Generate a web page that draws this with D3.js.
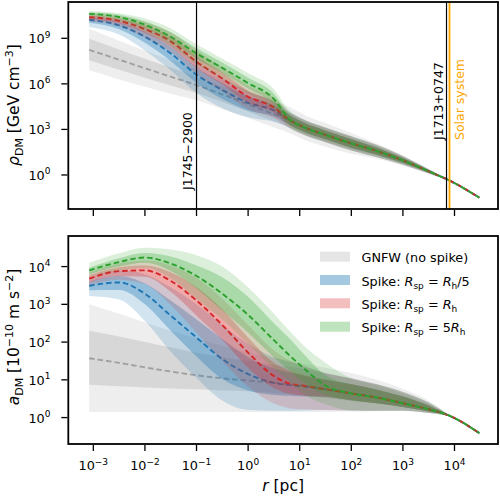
<!DOCTYPE html>
<html><head><meta charset="utf-8">
<script src="https://cdn.jsdelivr.net/npm/d3@7"></script>
<style>body{margin:0;background:#fff} text{font-family:"DejaVu Sans",sans-serif}</style>
</head><body><svg id="c" width="500" height="497"></svg>
<script>
// radius grid, log10(r / pc)
const logR = [-3.08, -2.5, -2, -1.5, -1, -0.5, 0, 0.5, 0.8, 1.1, 1.5, 2, 2.5, 3, 3.5, 3.9, 4.48];

// ---- top panel: log10(rho_DM / GeV cm^-3) ----
const rhoGnfwMed  = [8.24, 7.59, 7.03, 6.47, 5.92, 5.3, 4.65, 4.0, 3.62, 3.12, 2.64, 2.08, 1.57, 0.96, 0.24, -0.36, -1.49];
const rhoGnfwLo68 = [7.55, 6.93, 6.41, 5.89, 5.39, 4.8, 4.18, 3.54, 3.18, 2.69, 2.22, 1.70, 1.27, 0.76, 0.14, -0.37, -1.52];
const rhoGnfwHi68 = [8.97, 8.27, 7.66, 7.07, 6.47, 5.82, 5.15, 4.46, 4.06, 3.55, 3.06, 2.46, 1.87, 1.16, 0.34, -0.35, -1.46];
const rhoGnfwLo95 = [6.89, 6.29, 5.81, 5.35, 4.92, 4.35, 3.75, 3.12, 2.77, 2.30, 1.86, 1.40, 1.07, 0.63, 0.09, -0.38, -1.54];
const rhoGnfwHi95 = [9.63, 8.84, 8.18, 7.57, 6.97, 6.28, 5.57, 4.88, 4.47, 3.94, 3.42, 2.76, 2.07, 1.29, 0.39, -0.34, -1.44];

const rhoBlueMed  = [10.22, 9.85, 9.1, 8.0, 6.6, 5.6, 4.75, 4.25, 3.62, 3.12, 2.64, 2.08, 1.57, 0.96, 0.24, -0.36, -1.49];
const rhoBlueHi68 = [10.40, 10.08, 9.45, 8.45, 7.1, 6.05, 5.2, 4.6, 3.95, 3.42, 2.92, 2.36, 1.80, 1.12, 0.32, -0.35, -1.47];
const rhoBlueLo68 = [10.02, 9.6, 8.7, 7.5, 6.05, 5.0, 4.25, 3.85, 3.30, 2.82, 2.36, 1.80, 1.34, 0.80, 0.16, -0.37, -1.51];
const rhoBlueHi95 = [10.5, 10.25, 9.7, 8.75, 7.45, 6.4, 5.5, 4.85, 4.15, 3.62, 3.12, 2.55, 1.97, 1.25, 0.38, -0.34, -1.45];
const rhoBlueLo95 = [9.75, 9.25, 8.2, 6.9, 5.4, 4.4, 3.8, 3.5, 3.10, 2.62, 2.16, 1.62, 1.17, 0.68, 0.10, -0.38, -1.53];

const rhoRedMed  = [10.39, 10.15, 9.6, 8.8, 7.45, 6.35, 5.15, 4.45, 3.62, 3.12, 2.64, 2.08, 1.57, 0.96, 0.24, -0.36, -1.49];
const rhoRedHi68 = [10.52, 10.3, 9.85, 9.12, 7.85, 6.75, 5.55, 4.8, 3.95, 3.42, 2.92, 2.36, 1.80, 1.12, 0.32, -0.35, -1.47];
const rhoRedLo68 = [10.26, 9.98, 9.35, 8.45, 7.05, 5.95, 4.75, 4.1, 3.30, 2.82, 2.36, 1.80, 1.34, 0.80, 0.16, -0.37, -1.51];
const rhoRedHi95 = [10.62, 10.45, 10.05, 9.4, 8.2, 7.1, 5.9, 5.1, 4.15, 3.62, 3.12, 2.55, 1.97, 1.25, 0.38, -0.34, -1.45];
const rhoRedLo95 = [10.12, 9.8, 9.05, 8.1, 6.65, 5.5, 4.35, 3.75, 3.10, 2.62, 2.16, 1.62, 1.17, 0.68, 0.10, -0.38, -1.53];

const rhoGreenMed  = [10.61, 10.4, 9.9, 9.1, 8.0, 7.05, 6.05, 5.0, 3.68, 3.12, 2.64, 2.08, 1.57, 0.96, 0.24, -0.36, -1.49];
const rhoGreenHi68 = [10.72, 10.55, 10.12, 9.4, 8.35, 7.4, 6.4, 5.35, 4.0, 3.42, 2.92, 2.36, 1.80, 1.12, 0.32, -0.35, -1.47];
const rhoGreenLo68 = [10.5, 10.25, 9.68, 8.8, 7.65, 6.7, 5.7, 4.65, 3.33, 2.82, 2.36, 1.80, 1.34, 0.80, 0.16, -0.37, -1.51];
const rhoGreenHi95 = [10.8, 10.65, 10.3, 9.65, 8.6, 7.65, 6.7, 5.65, 4.25, 3.62, 3.12, 2.55, 1.97, 1.25, 0.38, -0.34, -1.45];
const rhoGreenLo95 = [10.4, 10.1, 9.45, 8.5, 7.3, 6.35, 5.35, 4.3, 3.12, 2.62, 2.16, 1.62, 1.17, 0.68, 0.10, -0.38, -1.53];

// ---- bottom panel: log10(a_DM / 1e-10 m s^-2) ----
const accGnfwMed  = [1.57, 1.45, 1.33, 1.22, 1.12, 1.04, 0.98, 0.92, 0.88, 0.84, 0.75, 0.64, 0.53, 0.38, 0.22, 0.05, -0.41];
const accGnfwHi68 = [2.3, 2.15, 2.0, 1.86, 1.72, 1.6, 1.5, 1.4, 1.34, 1.28, 1.16, 1.02, 0.85, 0.63, 0.35, 0.06, -0.39];
const accGnfwLo68 = [0.87, 0.83, 0.8, 0.77, 0.75, 0.72, 0.7, 0.65, 0.62, 0.58, 0.52, 0.44, 0.37, 0.28, 0.16, 0.04, -0.43];
const accGnfwHi95 = [3.0, 2.75, 2.52, 2.3, 2.1, 1.9, 1.72, 1.58, 1.5, 1.42, 1.32, 1.18, 1.0, 0.76, 0.45, 0.07, -0.37];
const accGnfwLo95 = [0.15, 0.15, 0.15, 0.15, 0.15, 0.15, 0.15, 0.15, 0.15, 0.15, 0.15, 0.16, 0.17, 0.18, 0.12, 0.03, -0.45];

const accBlueMed  = [3.49, 3.58, 3.28, 2.7, 2.12, 1.55, 1.15, 0.92, 0.86, 0.82, 0.75, 0.64, 0.53, 0.38, 0.22, 0.05, -0.41];
const accBlueHi68 = [3.6, 3.75, 3.55, 3.1, 2.6, 2.08, 1.6, 1.3, 1.2, 1.1, 1.0, 0.88, 0.74, 0.56, 0.32, 0.06, -0.39];
const accBlueLo68 = [3.37, 3.38, 3.0, 2.3, 1.62, 1.02, 0.72, 0.6, 0.58, 0.56, 0.55, 0.46, 0.38, 0.28, 0.16, 0.04, -0.43];
const accBlueHi95 = [3.7, 3.9, 3.8, 3.45, 3.0, 2.45, 1.95, 1.6, 1.48, 1.35, 1.18, 1.04, 0.88, 0.68, 0.4, 0.07, -0.37];
const accBlueLo95 = [3.22, 3.13, 2.56, 1.75, 1.05, 0.45, 0.2, 0.18, 0.18, 0.19, 0.2, 0.19, 0.18, 0.18, 0.12, 0.03, -0.45];

const accRedMed  = [3.68, 3.88, 3.9, 3.62, 3.1, 2.45, 1.72, 1.1, 0.9, 0.84, 0.75, 0.64, 0.53, 0.38, 0.22, 0.05, -0.41];
const accRedHi68 = [3.77, 3.98, 4.03, 3.85, 3.45, 2.87, 2.12, 1.45, 1.24, 1.12, 1.0, 0.88, 0.74, 0.56, 0.32, 0.06, -0.39];
const accRedLo68 = [3.58, 3.75, 3.73, 3.33, 2.7, 2.06, 1.32, 0.78, 0.63, 0.58, 0.55, 0.46, 0.38, 0.28, 0.16, 0.04, -0.43];
const accRedHi95 = [3.85, 4.08, 4.16, 4.03, 3.7, 3.15, 2.45, 1.78, 1.52, 1.35, 1.18, 1.04, 0.88, 0.68, 0.4, 0.07, -0.37];
const accRedLo95 = [3.5, 3.65, 3.53, 2.98, 2.25, 1.5, 0.82, 0.37, 0.25, 0.22, 0.2, 0.19, 0.18, 0.18, 0.12, 0.03, -0.45];

const accGreenMed  = [3.9, 4.12, 4.24, 4.08, 3.75, 3.28, 2.72, 2.05, 1.65, 1.28, 0.85, 0.64, 0.53, 0.38, 0.22, 0.05, -0.41];
const accGreenHi68 = [3.97, 4.22, 4.36, 4.27, 4.03, 3.72, 3.2, 2.5, 2.1, 1.65, 1.12, 0.88, 0.74, 0.56, 0.32, 0.06, -0.39];
const accGreenLo68 = [3.8, 4.0, 4.1, 3.88, 3.42, 2.84, 2.25, 1.6, 1.25, 0.9, 0.6, 0.46, 0.38, 0.28, 0.16, 0.04, -0.43];
const accGreenHi95 = [4.1, 4.35, 4.5, 4.45, 4.3, 4.0, 3.45, 2.75, 2.3, 1.88, 1.45, 1.04, 0.88, 0.68, 0.4, 0.07, -0.37];
const accGreenLo95 = [3.72, 3.9, 3.97, 3.7, 3.15, 2.6, 1.95, 1.3, 0.95, 0.6, 0.35, 0.19, 0.18, 0.18, 0.12, 0.03, -0.45];

// ticks
const xTickExp = [-3, -2, -1, 0, 1, 2, 3, 4];
const yTopTickExp = [0, 3, 6, 9];
const yBotTickExp = [0, 1, 2, 3, 4];

// pulsars / markers (pc)
const markerNames = ["J1745\u22122900", "J1713+0747", "Solar system"];
const markerR = [0.1, 7000, 8000];

const seriesNames = ["GNFW (no spike)", "Spike", "Spike", "Spike"];
const seriesColors = ["#7f7f7f", "#1f77b4", "#d62728", "#2ca02c"];
const lineColors = ["#a0a0a0", "#1f77b4", "#d62728", "#2ca02c"];

// ---------------- drawing ----------------
const svg = d3.select("#c");
const L = 68.3, R = 498;
const x = d3.scaleLog().domain([Math.pow(10, -3.485), Math.pow(10, 4.843)]).range([L, R]);
const yTop = d3.scaleLog().domain([Math.pow(10, -2.24), Math.pow(10, 11.39)]).range([209, 2]);
const yBot = d3.scaleLog().domain([Math.pow(10, -0.70), Math.pow(10, 4.81)]).range([444, 236]);

const defs = svg.append("defs");
[["clipTop", yTop], ["clipBot", yBot]].forEach(([id, y]) => {
  const r = y.range();
  defs.append("clipPath").attr("id", id).append("rect")
    .attr("x", L).attr("y", r[1]).attr("width", R - L).attr("height", r[0] - r[1]);
});

const idx = d3.range(logR.length);
function drawSeries(g, y, med, lo68, hi68, lo95, hi95, fill, lineCol, a95, a68) {
  const area = (lo, hi) => d3.area()
    .x(i => x(Math.pow(10, logR[i])))
    .y0(i => y(Math.pow(10, lo[i])))
    .y1(i => y(Math.pow(10, hi[i])))
    .curve(d3.curveMonotoneX);
  g.append("path").attr("d", area(lo95, hi95)(idx)).attr("fill", fill).attr("fill-opacity", a95);
  g.append("path").attr("d", area(lo68, hi68)(idx)).attr("fill", fill).attr("fill-opacity", a68);
  const line = d3.line().x(i => x(Math.pow(10, logR[i]))).y(i => y(Math.pow(10, med[i]))).curve(d3.curveMonotoneX);
  g.append("path").attr("d", line(idx)).attr("fill", "none").attr("stroke", lineCol)
    .attr("stroke-width", 1.9).attr("stroke-dasharray", "5.5,3");
}

const gTop = svg.append("g").attr("clip-path", "url(#clipTop)");
drawSeries(gTop, yTop, rhoGnfwMed, rhoGnfwLo68, rhoGnfwHi68, rhoGnfwLo95, rhoGnfwHi95, seriesColors[0], lineColors[0], 0.13, 0.2);
drawSeries(gTop, yTop, rhoBlueMed, rhoBlueLo68, rhoBlueHi68, rhoBlueLo95, rhoBlueHi95, seriesColors[1], lineColors[1], 0.2, 0.35);
drawSeries(gTop, yTop, rhoRedMed, rhoRedLo68, rhoRedHi68, rhoRedLo95, rhoRedHi95, seriesColors[2], lineColors[2], 0.17, 0.28);
drawSeries(gTop, yTop, rhoGreenMed, rhoGreenLo68, rhoGreenHi68, rhoGreenLo95, rhoGreenHi95, seriesColors[3], lineColors[3], 0.17, 0.28);

const gBot = svg.append("g").attr("clip-path", "url(#clipBot)");
drawSeries(gBot, yBot, accGnfwMed, accGnfwLo68, accGnfwHi68, accGnfwLo95, accGnfwHi95, seriesColors[0], lineColors[0], 0.13, 0.2);
drawSeries(gBot, yBot, accBlueMed, accBlueLo68, accBlueHi68, accBlueLo95, accBlueHi95, seriesColors[1], lineColors[1], 0.2, 0.35);
drawSeries(gBot, yBot, accRedMed, accRedLo68, accRedHi68, accRedLo95, accRedHi95, seriesColors[2], lineColors[2], 0.17, 0.28);
drawSeries(gBot, yBot, accGreenMed, accGreenLo68, accGreenHi68, accGreenLo95, accGreenHi95, seriesColors[3], lineColors[3], 0.17, 0.28);

// vertical marker lines (top panel)
const tr = yTop.range();
markerR.forEach((r, k) => {
  const xx = x(r);
  const col = k === 2 ? "#ffa500" : "#000";
  svg.append("line").attr("x1", xx).attr("x2", xx).attr("y1", tr[1]).attr("y2", tr[0])
    .attr("stroke", col).attr("stroke-width", k === 2 ? 1.8 : 1.2);
});
// labels
const mlab = [{bx: x(markerR[0]) - 5, by: 190}, {bx: x(markerR[1]) - 3.5, by: 140}, {bx: x(markerR[2]) + 14.3, by: 140}];
markerNames.forEach((n, k) => {
  svg.append("text").attr("transform", `translate(${mlab[k].bx},${mlab[k].by}) rotate(-90)`)
    .attr("font-size", 12.5).attr("fill", k === 2 ? "#ffa500" : "#000").text(n);
});

// frames
[yTop, yBot].forEach(y => {
  const r = y.range();
  svg.append("rect").attr("x", L).attr("y", r[1]).attr("width", R - L).attr("height", r[0] - r[1])
    .attr("fill", "none").attr("stroke", "#000").attr("stroke-width", 1.8);
});

// ticks
function supLabel(sel, base, exp) {
  sel.append("tspan").text(base);
  sel.append("tspan").attr("font-size", 9).attr("dy", -5.5).text(String(exp).replace("-", "\u2212"));
}
[yTop, yBot].forEach((y, p) => {
  const yb = y.range()[0];
  xTickExp.forEach(e => {
    const xx = x(Math.pow(10, e));
    svg.append("line").attr("x1", xx).attr("x2", xx).attr("y1", yb + 0.9).attr("y2", yb + 7)
      .attr("stroke", "#000").attr("stroke-width", 1.3);
    if (p === 1) {
      const t = svg.append("text").attr("x", xx).attr("y", 470).attr("text-anchor", "middle").attr("font-size", 12.8);
      supLabel(t, "10", e);
    }
  });
});
[[yTop, yTopTickExp], [yBot, yBotTickExp]].forEach(([y, exps]) => {
  exps.forEach(e => {
    const yy = y(Math.pow(10, e));
    svg.append("line").attr("x1", L - 0.9).attr("x2", L - 7).attr("y1", yy).attr("y2", yy)
      .attr("stroke", "#000").attr("stroke-width", 1.3);
    const t = svg.append("text").attr("x", 50.5).attr("y", yy + 5).attr("text-anchor", "end").attr("font-size", 12.8);
    supLabel(t, "10", e);
  });
});

// axis labels
const yl1 = svg.append("text").attr("transform", "translate(19,105) rotate(-90)").attr("text-anchor", "middle").attr("font-size", 15.5);
yl1.append("tspan").attr("font-style", "italic").text("\u03C1");
yl1.append("tspan").attr("font-size", 11).attr("dy", 3.5).text("DM");
yl1.append("tspan").attr("dy", -3.5).text(" [GeV cm");
yl1.append("tspan").attr("font-size", 11).attr("dy", -6.5).text("\u22123");
yl1.append("tspan").attr("dy", 6.5).text("]");

const yl2 = svg.append("text").attr("transform", "translate(19,337) rotate(-90)").attr("text-anchor", "middle").attr("font-size", 15.5);
yl2.append("tspan").attr("font-style", "italic").text("a");
yl2.append("tspan").attr("font-size", 11).attr("dy", 3.5).text("DM");
yl2.append("tspan").attr("dy", -3.5).text(" [10");
yl2.append("tspan").attr("font-size", 11).attr("dy", -6.5).text("\u221210");
yl2.append("tspan").attr("dy", 6.5).text(" m s");
yl2.append("tspan").attr("font-size", 11).attr("dy", -6.5).text("\u22122");
yl2.append("tspan").attr("dy", 6.5).text("]");

const xl = svg.append("text").attr("x", (L + R) / 2).attr("y", 491).attr("text-anchor", "middle").attr("font-size", 15.5);
xl.append("tspan").attr("font-style", "italic").text("r");
xl.append("tspan").text(" [pc]");

// legend
const legAlpha = [0.2, 0.4, 0.3, 0.3];
const legRows = [256.7, 280, 303.3, 326.7];
seriesNames.forEach((n, k) => {
  const cy = legRows[k];
  svg.append("rect").attr("x", 320).attr("y", cy - 5).attr("width", 30).attr("height", 10)
    .attr("fill", seriesColors[k]).attr("fill-opacity", legAlpha[k]);
  const t = svg.append("text").attr("x", 361.5).attr("y", cy + 5.5).attr("font-size", 12.8);
  if (k === 0) { t.text(n); return; }
  t.append("tspan").text(n + ": ");
  t.append("tspan").attr("font-style", "italic").text("R");
  t.append("tspan").attr("font-size", 9).attr("dy", 3).text("sp");
  t.append("tspan").attr("dy", -3).text(" = " + (k === 3 ? "5" : ""));
  t.append("tspan").attr("font-style", "italic").text("R");
  t.append("tspan").attr("font-size", 9).attr("dy", 3).text("h");
  if (k === 1) t.append("tspan").attr("dy", -3).text("/5");
});
</script></body></html>
